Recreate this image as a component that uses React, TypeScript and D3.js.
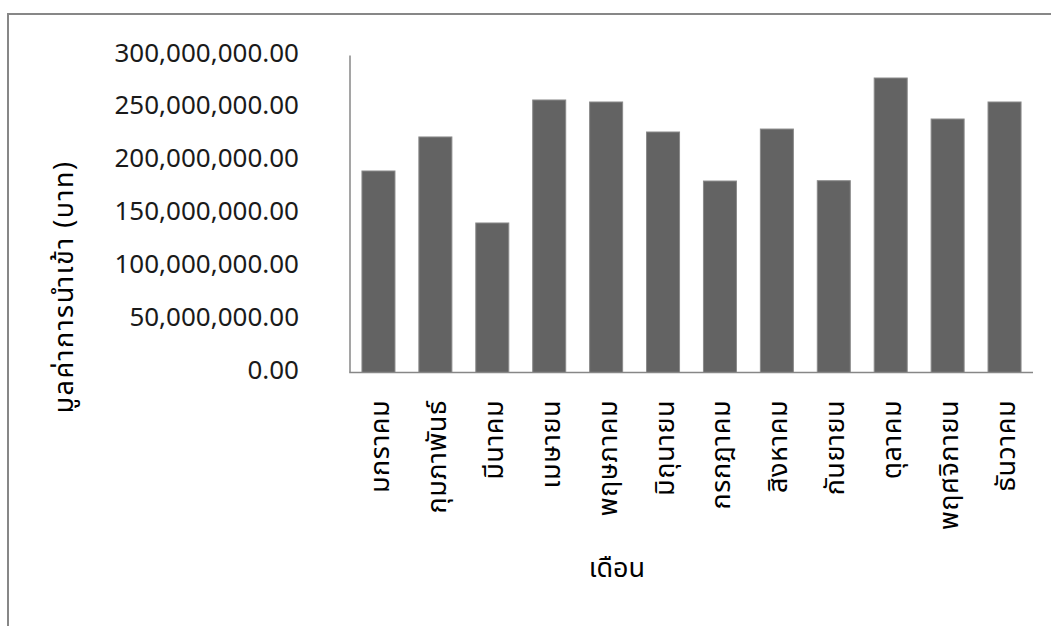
import React from "react";
import * as d3 from "d3";

const months = [
  "มกราคม",
  "กุมภาพันธ์",
  "มีนาคม",
  "เมษายน",
  "พฤษภาคม",
  "มิถุนายน",
  "กรกฎาคม",
  "สิงหาคม",
  "กันยายน",
  "ตุลาคม",
  "พฤศจิกายน",
  "ธันวาคม",
];

const importValues = [
  190700000, 222900000, 141500000, 257900000, 256000000, 227600000,
  181200000, 230400000, 181500000, 278700000, 239900000, 256000000,
];

const yTicks = [0, 50000000, 100000000, 150000000, 200000000, 250000000, 300000000];

const yTitle = "มูลค่าการนำเข้า (บาท)";
const xTitle = "เดือน";

const W = 1051;
const H = 626;
const FONT = "'Noto Sans', 'Noto Sans Thai', Tahoma, sans-serif";

export default function App() {
  const x = d3.scaleBand<string>().domain(months).range([350, 1033]).paddingInner(0.42).paddingOuter(0.21);
  const y = d3.scaleLinear().domain([0, 300000000]).range([372.5, 55.5]);
  const fmt = d3.format(",.2f");

  return (
    <svg
      width={W}
      height={H}
      style={{ position: "absolute", left: 0, top: 0, background: "#fff" }}
    >
      <rect x={0} y={0} width={W} height={H} fill="#fff" />
      <rect x={8} y={14} width={1200} height={800} fill="none" stroke="#878787" strokeWidth={2} />

      {importValues.map((v, i) => (
        <rect
          key={months[i]}
          x={x(months[i])!}
          y={y(v)}
          width={x.bandwidth()}
          height={y(0) - y(v)}
          fill="#636363"
          stroke="#8a8a8a"
          strokeWidth={1}
        />
      ))}

      <line x1={350} x2={350} y1={y(300000000)} y2={y(0)} stroke="#878787" strokeWidth={1.5} />
      <line x1={349.25} x2={1033} y1={y(0)} y2={y(0)} stroke="#878787" strokeWidth={1.5} />

      {yTicks.map((t) => (
        <text
          key={t}
          x={299}
          y={y(t) - 4}
          textAnchor="end"
          dominantBaseline="central"
          fontFamily={FONT}
          fontSize={26}
          fill="#1a1a1a"
        >
          {fmt(t)}
        </text>
      ))}

      {months.map((m) => {
        const cx = x(m)! + x.bandwidth() / 2;
        return (
          <text
            key={m}
            transform={`translate(${cx},400) rotate(-90)`}
            textAnchor="end"
            dominantBaseline="central"
            fontFamily={FONT}
            fontSize={27}
            letterSpacing={0.5}
            fill="#000"
          >
            {m}
          </text>
        );
      })}

      <text
        transform={`translate(62,287) rotate(-90)`}
        textAnchor="middle"
        dominantBaseline="central"
        fontFamily={FONT}
        fontSize={27}
        letterSpacing={1.5}
        fill="#000"
      >
        {yTitle}
      </text>

      <text
        x={617}
        y={577}
        textAnchor="middle"
        fontFamily={FONT}
        fontSize={27}
        fill="#000"
      >
        {xTitle}
      </text>
    </svg>
  );
}
